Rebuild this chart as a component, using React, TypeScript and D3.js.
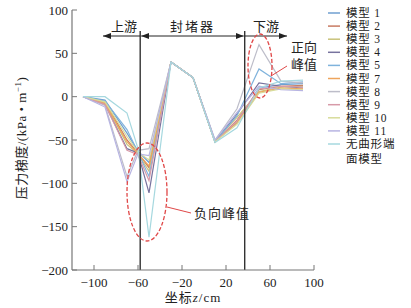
import * as d3 from "d3";
import React from "react";

// z positions (cm)
const zPos = [-110, -90, -70, -60, -50, -30, -10, 10, 30, 50, 70, 90];

const seriesNames = ["模型 1", "模型 2", "模型 3", "模型 4", "模型 5", "模型 7", "模型 8", "模型 9", "模型 10", "模型 11", "无曲形端面模型"];
const seriesColors = ["#6f9fd0", "#c87a62", "#c9c27a", "#77739e", "#7fb3dc", "#eea45c", "#bdbdc9", "#d79aa8", "#d7dc9a", "#b7b4e2", "#a6d8df"];

const m1 = [0, -4, -42, -63, -76, 40, 22, -52, -30, 10, 14, 15];
const m2 = [0, -6, -50, -65, -82, 40, 22, -52, -27, 8, 12, 13];
const m3 = [0, -7, -55, -66, -86, 40, 22, -51, -24, 6, 11, 12];
const m4 = [0, -9, -60, -65, -111, 40, 22, -52, -20, 16, 12, 10];
const m5 = [0, -5, -38, -64, -92, 40, 22, -52, -22, 32, 15, 17];
const m7 = [0, -8, -52, -66, -80, 40, 22, -52, -30, 5, 10, 9];
const m8 = [0, -10, -92, -62, -60, 40, 22, -50, -14, 60, 18, 16];
const m9 = [0, -9, -62, -67, -97, 40, 22, -52, -28, 9, 12, 11];
const m10 = [0, -6, -46, -64, -73, 40, 22, -52, -32, 4, 9, 8];
const m11 = [0, -12, -98, -66, -68, 40, 22, -50, -18, 12, 8, 7];
const mFlat = [0, 0, -19, -60, -162, 40, 22, -53, -36, 10, 18, 19];
const seriesValues = [m1, m2, m3, m4, m5, m7, m8, m9, m10, m11, mFlat];

const xTicks = [-100, -60, -20, 20, 60, 100];
const yTicks = [100, 50, 0, -50, -100, -150, -200];
// section boundaries
const bounds = [-58, 37];

const fmt = (v: number) => (v < 0 ? "\u2212" + Math.abs(v) : String(v));
const FONT = "'Liberation Serif', 'Noto Sans CJK SC', serif";

export default function App() {
  const x = d3.scaleLinear().domain([-120, 100]).range([72, 314]);
  const y = d3.scaleLinear().domain([-200, 100]).range([270, 10]);
  const line = d3
    .line<number>()
    .x((d, i) => x(zPos[i]))
    .y((d) => y(d));

  const bx0 = x(bounds[0]);
  const bx1 = x(bounds[1]);
  const arrowY = 36;

  return (
    <svg width={411} height={308} style={{ position: "absolute", left: 0, top: 0, background: "#fff" }} fontFamily={FONT}>
      <defs>
        <marker id="arr" markerWidth="8" markerHeight="6" refX="8" refY="3" orient="auto">
          <path d="M0,0 L8,3 L0,6 Z" fill="#222" />
        </marker>
        <marker id="arrS" markerWidth="8" markerHeight="6" refX="0" refY="3" orient="auto">
          <path d="M8,0 L0,3 L8,6 Z" fill="#222" />
        </marker>
      </defs>

      {/* data lines */}
      {seriesValues.map((vals, i) => (
        <path key={i} d={line(vals) || ""} fill="none" stroke={seriesColors[i]} strokeWidth={1.2} />
      ))}

      {/* section boundaries */}
      {bounds.map((b, i) => (
        <line key={i} x1={x(b)} x2={x(b)} y1={31} y2={270} stroke="#333" strokeWidth={1.4} />
      ))}

      {/* section arrows */}
      <line x1={bx0} x2={103} y1={arrowY} y2={arrowY} stroke="#222" strokeWidth={1} markerEnd="url(#arr)" />
      <line x1={bx0 + 1} x2={bx1 - 1} y1={arrowY} y2={arrowY} stroke="#222" strokeWidth={1} markerStart="url(#arrS)" markerEnd="url(#arr)" />
      <line x1={bx1} x2={287} y1={arrowY} y2={arrowY} stroke="#222" strokeWidth={1} markerEnd="url(#arr)" />
      <text x={124} y={31} fontSize={13} textAnchor="middle" fill="#222">上游</text>
      <text x={(bx0 + bx1) / 2} y={31} fontSize={13} textAnchor="middle" fill="#222" letterSpacing={2}>封堵器</text>
      <text x={266} y={31} fontSize={13} textAnchor="middle" fill="#222">下游</text>

      {/* y axis */}
      <line x1={72} x2={72} y1={y(100)} y2={y(-200)} stroke="#777" strokeWidth={1.2} />
      {yTicks.map((t) => (
        <g key={t}>
          <line x1={72} x2={77} y1={y(t)} y2={y(t)} stroke="#777" />
          <text x={68} y={y(t) + 4.5} fontSize={13} textAnchor="end" fill="#222">{fmt(t)}</text>
        </g>
      ))}

      {/* x axis */}
      <line x1={72} x2={314} y1={270} y2={270} stroke="#777" strokeWidth={1.2} />
      {xTicks.map((t) => (
        <g key={t}>
          <line x1={x(t)} x2={x(t)} y1={270} y2={265} stroke="#777" />
          <text x={x(t)} y={287} fontSize={13} textAnchor="middle" fill="#222">{fmt(t)}</text>
        </g>
      ))}
      <text x={193} y={302} fontSize={13} textAnchor="middle" fill="#222" letterSpacing={1}>
        坐标<tspan fontStyle="italic">z</tspan>/cm
      </text>
      <text transform="translate(26,138) rotate(-90)" fontSize={13} textAnchor="middle" fill="#222" letterSpacing={0.5}>
        压力梯度/(kPa • m<tspan dy={-5} fontSize={9}>−1</tspan><tspan dy={5}>)</tspan>
      </text>

      {/* peak annotations */}
      <ellipse cx={147} cy={192} rx={20} ry={49} fill="none" stroke="#e04848" strokeWidth={1.3} strokeDasharray="4,2" />
      <line x1={167} y1={207} x2={191} y2={213} stroke="#e04848" strokeWidth={1} />
      <text x={194} y={218} fontSize={13} fill="#222" letterSpacing={1}>负向峰值</text>
      <ellipse cx={260} cy={66} rx={12} ry={32} fill="none" stroke="#e04848" strokeWidth={1.3} strokeDasharray="4,2" />
      <line x1={271} y1={76} x2={287} y2={66} stroke="#e04848" strokeWidth={1} />
      <text x={291} y={52} fontSize={13} fill="#222">正向</text>
      <text x={291} y={69} fontSize={13} fill="#222">峰值</text>

      {/* legend */}
      {seriesNames.map((n, i) => {
        const ly = 13 + i * 13.1;
        if (i === 10) {
          return (
            <g key={n}>
              <line x1={328} x2={340} y1={ly} y2={ly} stroke={seriesColors[i]} strokeWidth={1.5} />
              <text x={346} y={ly + 4} fontSize={11.5} fill="#222" letterSpacing={0.8}>无曲形端</text>
              <text x={346} y={ly + 19} fontSize={11.5} fill="#222" letterSpacing={0.8}>面模型</text>
            </g>
          );
        }
        return (
          <g key={n}>
            <line x1={328} x2={340} y1={ly} y2={ly} stroke={seriesColors[i]} strokeWidth={1.5} />
            <text x={346} y={ly + 4} fontSize={11.5} fill="#222" letterSpacing={0.8}>{n}</text>
          </g>
        );
      })}
    </svg>
  );
}
